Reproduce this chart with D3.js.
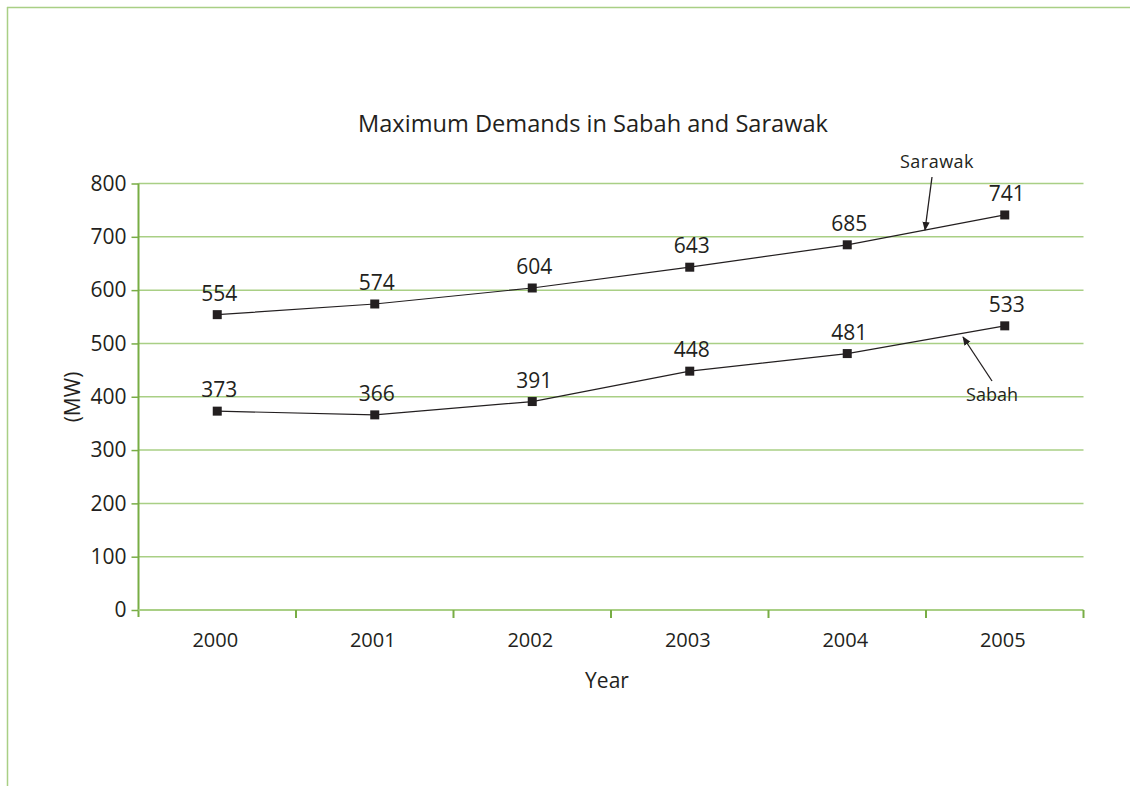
<!DOCTYPE html>
<html>
<head>
<meta charset="utf-8">
<script src="https://cdn.jsdelivr.net/npm/d3@7/dist/d3.min.js"></script>
<style>
  html, body { margin: 0; padding: 0; background: #fff; }
  svg { display: block; }
  text { font-family: "Open Sans", "Noto Sans", sans-serif; fill: #231f20; }
</style>
</head>
<body>
<svg id="chart" width="1130" height="786"></svg>
<script>
// Maximum demand (MW) per year
const years = ["2000", "2001", "2002", "2003", "2004", "2005"];
const sarawak = [554, 574, 604, 643, 685, 741];
const sabah = [373, 366, 391, 448, 481, 533];
const yTicks = [0, 100, 200, 300, 400, 500, 600, 700, 800];

const titleText = "Maximum Demands in Sabah and Sarawak";
const xTitle = "Year";
const yTitle = "(MW)";

const svg = d3.select("#chart");

const gridColor = "#a9cf85";
const axisColor = "#78ad45";
const inkColor = "#231f20";

// frame lines along the top and left edge
svg.append("line").attr("x1", 7).attr("x2", 1130).attr("y1", 7.5).attr("y2", 7.5)
  .attr("stroke", "#a9cf85").attr("stroke-width", 1.5);
svg.append("line").attr("x1", 7.5).attr("x2", 7.5).attr("y1", 7).attr("y2", 786)
  .attr("stroke", "#a9cf85").attr("stroke-width", 1.5);

const plotL = 138.5, plotR = 1083.5, plotT = 183.5, plotB = 610;

const x = d3.scaleBand().domain(years).range([plotL, plotR]);
const y = d3.scaleLinear().domain([0, 800]).range([plotB, plotT]);

// horizontal gridlines
svg.append("g").selectAll("line").data(yTicks.filter(d => d > 0)).join("line")
  .attr("x1", plotL).attr("x2", plotR)
  .attr("y1", d => y(d)).attr("y2", d => y(d))
  .attr("stroke", gridColor).attr("stroke-width", 1.5);

// y axis
const yAxis = svg.append("g").attr("transform", `translate(${plotL},0)`)
  .call(d3.axisLeft(y).tickValues(yTicks).tickSize(7).tickPadding(5));
yAxis.select(".domain").attr("stroke", axisColor).attr("stroke-width", 2)
  .attr("d", `M0,${plotT}V${plotB + 7}`);
yAxis.selectAll(".tick line").attr("stroke", axisColor).attr("stroke-width", 1.5);
yAxis.selectAll(".tick text").attr("font-size", 21).attr("fill", inkColor)
  .attr("font-family", "Open Sans, sans-serif");

// x axis with ticks at band boundaries
const xAxisG = svg.append("g").attr("transform", `translate(0,${plotB})`);
xAxisG.append("line").attr("x1", plotL).attr("x2", plotR).attr("y1", 0).attr("y2", 0)
  .attr("stroke", gridColor).attr("stroke-width", 2);
const bounds = years.map(d => x(d)).concat([x(years[years.length - 1]) + x.bandwidth()]);
xAxisG.selectAll("line.tk").data(bounds.slice(1)).join("line").attr("class", "tk")
  .attr("x1", d => d).attr("x2", d => d).attr("y1", 0).attr("y2", 8)
  .attr("stroke", axisColor).attr("stroke-width", 2);
xAxisG.selectAll("text").data(years).join("text")
  .attr("x", d => x(d) + x.bandwidth() / 2 - 2)
  .attr("y", 37)
  .attr("text-anchor", "middle").attr("font-size", 20)
  .text(d => d);

// title and axis titles
svg.append("text").attr("x", 593).attr("y", 132).attr("text-anchor", "middle")
  .attr("font-size", 23.6).text(titleText);
svg.append("text").attr("x", 607).attr("y", 688).attr("text-anchor", "middle")
  .attr("font-size", 21).text(xTitle);
svg.append("text").attr("transform", "translate(80,397) rotate(-90)")
  .attr("text-anchor", "middle").attr("font-size", 21).text(yTitle);

// series lines, markers and value labels
const cx = d => x(d) + x.bandwidth() / 2;
const line = d3.line().x(d => cx(d.year)).y(d => y(d.value));

[sarawak, sabah].forEach(vals => {
  const pts = years.map((yr, i) => ({ year: yr, value: vals[i] }));
  svg.append("path").datum(pts).attr("d", line)
    .attr("fill", "none").attr("stroke", inkColor).attr("stroke-width", 1.2);
  svg.append("g").selectAll("rect").data(pts).join("rect")
    .attr("x", d => cx(d.year) - 4.5).attr("y", d => y(d.value) - 4.5)
    .attr("width", 9).attr("height", 9).attr("fill", inkColor);
  svg.append("g").selectAll("text").data(pts).join("text")
    .attr("x", d => cx(d.year) + 2).attr("y", d => y(d.value) - 14)
    .attr("text-anchor", "middle").attr("font-size", 21)
    .text(d => d.value);
});

// series annotations with arrows
const defs = svg.append("defs");
defs.append("marker").attr("id", "arrow").attr("viewBox", "0 0 10 10")
  .attr("refX", 9).attr("refY", 5).attr("markerWidth", 9).attr("markerHeight", 9)
  .attr("markerUnits", "userSpaceOnUse").attr("orient", "auto")
  .append("path").attr("d", "M0,1 L10,5 L0,9 Z").attr("fill", inkColor);

svg.append("text").attr("x", 937).attr("y", 168).attr("text-anchor", "middle")
  .attr("font-size", 18).attr("letter-spacing", 0.5).text("Sarawak");
svg.append("line").attr("x1", 932).attr("y1", 177).attr("x2", 925).attr("y2", 230)
  .attr("stroke", inkColor).attr("stroke-width", 1.3).attr("marker-end", "url(#arrow)");

svg.append("text").attr("x", 992).attr("y", 401).attr("text-anchor", "middle")
  .attr("font-size", 18).text("Sabah");
svg.append("line").attr("x1", 992).attr("y1", 381).attr("x2", 963).attr("y2", 337)
  .attr("stroke", inkColor).attr("stroke-width", 1.3).attr("marker-end", "url(#arrow)");
</script>
</body>
</html>
